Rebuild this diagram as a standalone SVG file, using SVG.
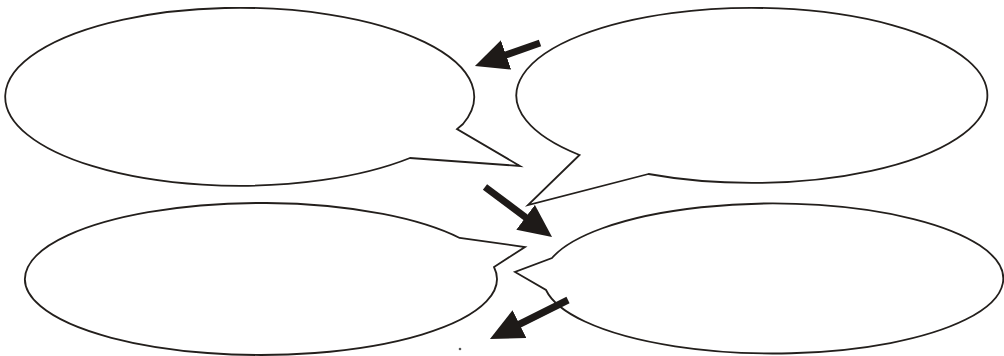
<svg xmlns="http://www.w3.org/2000/svg" width="1004" height="356" viewBox="0 0 1004 356">
  <style>
    .bubble { fill: #ffffff; stroke: #231f1c; stroke-width: 1.8; stroke-linejoin: miter; stroke-miterlimit: 20; }
    .arrow { stroke: #1e1a18; stroke-width: 7; fill: none; stroke-linecap: butt; }
  </style>
  <defs>
    <marker id="head" viewBox="0 0 33 31" refX="4" refY="15.5" markerWidth="33" markerHeight="31" markerUnits="userSpaceOnUse" orient="auto">
      <path d="M0,0 L33,15.5 L0,31 Z" fill="#1e1a18"/>
    </marker>
  </defs>
  <rect width="1004" height="356" fill="#ffffff"/>
  <g id="bubble-top-left">
    <path class="bubble" d="M410,158 A234.5 89 0 1 1 463,124 L457,129 L520,166 Z"/>
  </g>
  <g id="bubble-top-right">
    <path class="bubble" d="M648.5,174 L528,205 L579.5,155 A235.5 87.5 0 1 1 648.5,174 Z"/>
  </g>
  <g id="bubble-bottom-left">
    <path class="bubble" d="M494,267 A236 76 0 1 1 459.7,238 L525,247 Z"/>
  </g>
  <g id="bubble-bottom-right">
    <path class="bubble" d="M546,290 A230 75 0 1 0 552,258 L515,272 Z"/>
  </g>
  <g id="connectors">
    <line class="arrow" x1="540" y1="43" x2="502.3" y2="56.3" marker-end="url(#head)"/>
    <line class="arrow" x1="485" y1="187" x2="528.8" y2="219.7" marker-end="url(#head)"/>
    <line class="arrow" x1="568" y1="300" x2="515.9" y2="326" marker-end="url(#head)"/>
  </g>
  <circle cx="460" cy="349" r="1.3" fill="#555"/>
</svg>
